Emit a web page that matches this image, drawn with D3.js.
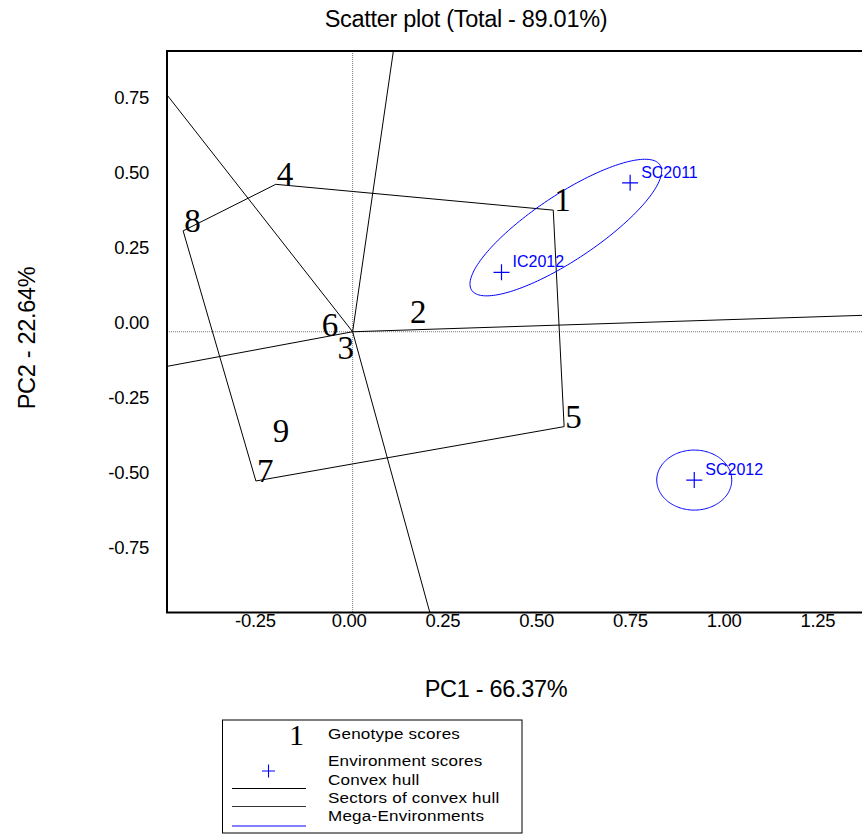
<!DOCTYPE html>
<html>
<head>
<meta charset="utf-8">
<script src="https://cdn.jsdelivr.net/npm/d3@7"></script>
<style>
  body { margin: 0; background: #fff; }
  svg { display: block; }
  .sans { font-family: "Liberation Sans", Arial, sans-serif; }
  .serif { font-family: "Liberation Serif", "Times New Roman", serif; }
</style>
</head>
<body>
<div id="chart"></div>
<script>
// genotype scores (PC1, PC2)
const genotypes = ['1', '2', '3', '4', '5', '6', '7', '8', '9'];
const genoPC1 = [0.535, 0.150, -0.043, -0.205, 0.564, -0.085, -0.258, -0.452, -0.216];
const genoPC2 = [0.405, 0.031, -0.087, 0.491, -0.316, -0.011, -0.497, 0.336, -0.363];

// environment scores
const environments = ['SC2011', 'IC2012', 'SC2012'];
const envPC1 = [0.740, 0.397, 0.911];
const envPC2 = [0.496, 0.198, -0.494];

// mega-environments (groups of environments)
const megaEnvs = [['SC2011', 'IC2012'], ['SC2012']];

const xTicks = [-0.25, 0, 0.25, 0.5, 0.75, 1.0, 1.25];
const yTicks = [-0.75, -0.5, -0.25, 0, 0.25, 0.5, 0.75];

const title = 'Scatter plot (Total - 89.01%)';
const xTitle = 'PC1 - 66.37%';
const yTitle = 'PC2 - 22.64%';

const W = 862, H = 836;
const plot = { left: 167, top: 51, right: 878, bottom: 612.5 };
const blue = '#0000ff';
const ellipsePad = 0.1;

const svg = d3.select('#chart')
  .append('svg')
  .attr('width', W)
  .attr('height', H);

const x = d3.scaleLinear().domain([-0.495, 1.401]).range([plot.left, plot.right]);
const y = d3.scaleLinear().domain([-0.935, 0.935]).range([plot.bottom, plot.top]);

svg.append('defs').append('clipPath')
  .attr('id', 'clip')
  .append('rect')
  .attr('x', plot.left)
  .attr('y', plot.top)
  .attr('width', plot.right - plot.left)
  .attr('height', plot.bottom - plot.top);

// title
svg.append('text')
  .attr('class', 'sans')
  .attr('x', 466)
  .attr('y', 27)
  .attr('text-anchor', 'middle')
  .attr('font-size', 23.5)
  .attr('letter-spacing', -0.3)
  .text(title);

// axes tick labels
const fmt = (d) => d.toFixed(2);

const xAxis = svg.append('g')
  .attr('transform', `translate(0,${plot.bottom})`)
  .call(d3.axisBottom(x).tickValues(xTicks).tickSize(0).tickFormat(fmt));
xAxis.select('.domain').remove();
xAxis.selectAll('text')
  .attr('class', 'sans')
  .attr('font-size', 18.5)
  .attr('letter-spacing', -0.3)
  .attr('fill', '#000')
  .attr('x', -4)
  .attr('y', 14.5)
  .attr('dy', null);

const yAxis = svg.append('g')
  .attr('transform', `translate(${plot.left},0)`)
  .call(d3.axisLeft(y).tickValues(yTicks).tickSize(0).tickFormat(fmt));
yAxis.select('.domain').remove();
yAxis.selectAll('text')
  .attr('class', 'sans')
  .attr('font-size', 18.5)
  .attr('letter-spacing', -0.3)
  .attr('fill', '#000')
  .attr('x', -18)
  .attr('y', -3.5)
  .attr('dy', null);

// axis titles
svg.append('text')
  .attr('class', 'sans')
  .attr('x', 496)
  .attr('y', 697)
  .attr('text-anchor', 'middle')
  .attr('font-size', 23.5)
  .attr('letter-spacing', -0.3)
  .text(xTitle);

svg.append('text')
  .attr('class', 'sans')
  .attr('transform', 'translate(35,338) rotate(-90)')
  .attr('text-anchor', 'middle')
  .attr('font-size', 23.5)
  .attr('letter-spacing', -0.3)
  .text(yTitle);

const g = svg.append('g').attr('clip-path', 'url(#clip)');

// dotted origin axes
g.append('line')
  .attr('x1', x(0)).attr('x2', x(0))
  .attr('y1', plot.top).attr('y2', plot.bottom)
  .attr('stroke', '#777')
  .attr('stroke-dasharray', '1,1');
g.append('line')
  .attr('x1', plot.left).attr('x2', plot.right)
  .attr('y1', y(0)).attr('y2', y(0))
  .attr('stroke', '#777')
  .attr('stroke-dasharray', '1,1');

// convex hull of genotypes
const genoPts = genotypes.map((d, i) => [genoPC1[i], genoPC2[i]]);
const hull = d3.polygonHull(genoPts);

g.append('path')
  .attr('d', d3.line().x((d) => x(d[0])).y((d) => y(d[1]))(hull.concat([hull[0]])))
  .attr('fill', 'none')
  .attr('stroke', '#000')
  .attr('stroke-width', 1);

// sector lines: perpendicular from origin to each hull edge
hull.forEach((a, i) => {
  const b = hull[(i + 1) % hull.length];
  const dx = b[0] - a[0], dy = b[1] - a[1];
  const t = -(a[0] * dx + a[1] * dy) / (dx * dx + dy * dy);
  const fx = a[0] + t * dx, fy = a[1] + t * dy;
  const len = Math.hypot(fx, fy);
  const ex = (fx / len) * 5, ey = (fy / len) * 5;
  g.append('line')
    .attr('x1', x(0)).attr('y1', y(0))
    .attr('x2', x(ex)).attr('y2', y(ey))
    .attr('stroke', '#000')
    .attr('stroke-width', 1);
});

// mega-environment ellipses
const envIndex = (name) => environments.indexOf(name);
megaEnvs.forEach((grp) => {
  const pts = grp.map((n) => [envPC1[envIndex(n)], envPC2[envIndex(n)]]);
  const cx = d3.mean(pts, (d) => d[0]);
  const cy = d3.mean(pts, (d) => d[1]);
  let ux = 1, uy = 0, half = 0;
  if (pts.length > 1) {
    const ddx = pts[1][0] - pts[0][0], ddy = pts[1][1] - pts[0][1];
    const dist = Math.hypot(ddx, ddy);
    ux = ddx / dist; uy = ddy / dist; half = dist / 2;
  }
  const ra = half + ellipsePad, rb = ellipsePad;
  const ring = d3.range(0, 2 * Math.PI, Math.PI / 90).map((th) => {
    const p = ra * Math.cos(th), q = rb * Math.sin(th);
    return [cx + p * ux - q * uy, cy + p * uy + q * ux];
  });
  g.append('path')
    .attr('d', d3.line().x((d) => x(d[0])).y((d) => y(d[1])).curve(d3.curveLinearClosed)(ring))
    .attr('fill', 'none')
    .attr('stroke', blue)
    .attr('stroke-width', 1);
});

// environment markers
environments.forEach((name, i) => {
  const px = x(envPC1[i]), py = y(envPC2[i]);
  g.append('path')
    .attr('d', `M${px - 8},${py}H${px + 8}M${px},${py - 8}V${py + 8}`)
    .attr('stroke', blue)
    .attr('stroke-width', 1.2);
  g.append('text')
    .attr('class', 'sans')
    .attr('x', px + 11)
    .attr('y', py - 5)
    .attr('font-size', 16)
    .attr('fill', blue)
    .text(name);
});

// genotype labels
g.selectAll('text.geno')
  .data(genotypes)
  .enter()
  .append('text')
  .attr('class', 'geno serif')
  .attr('x', (d, i) => x(genoPC1[i]) + 1)
  .attr('y', (d, i) => y(genoPC2[i]) + 1)
  .attr('font-size', 33)
  .attr('fill', '#000')
  .text((d) => d);

// frame
svg.append('rect')
  .attr('x', plot.left)
  .attr('y', plot.top)
  .attr('width', plot.right - plot.left)
  .attr('height', plot.bottom - plot.top)
  .attr('fill', 'none')
  .attr('stroke', '#000')
  .attr('stroke-width', 2);

// legend
const lg = svg.append('g');
lg.append('rect')
  .attr('x', 222.5).attr('y', 720)
  .attr('width', 299.5).attr('height', 113)
  .attr('fill', 'none')
  .attr('stroke', '#000')
  .attr('stroke-width', 1);

lg.append('text')
  .attr('class', 'serif')
  .attr('x', 296.5).attr('y', 745)
  .attr('text-anchor', 'middle')
  .attr('font-size', 30)
  .text(genotypes[0]);

lg.append('path')
  .attr('d', 'M262,771H275M268.5,764.5V777.5')
  .attr('stroke', blue)
  .attr('stroke-width', 1.1);

const legendLines = [
  { y: 788.5, color: '#000' },
  { y: 806.5, color: '#333' },
  { y: 826, color: blue }
];
legendLines.forEach((d) => {
  lg.append('line')
    .attr('x1', 232).attr('x2', 306)
    .attr('y1', d.y).attr('y2', d.y)
    .attr('stroke', d.color)
    .attr('stroke-width', 1);
});

const legendTexts = [
  ['Genotype scores', 739],
  ['Environment scores', 766],
  ['Convex hull', 784.5],
  ['Sectors of convex hull', 803],
  ['Mega-Environments', 821]
];
legendTexts.forEach(([t, ty]) => {
  lg.append('text')
    .attr('class', 'sans')
    .attr('transform', `translate(328,${ty}) scale(1.1,1)`)
    .attr('font-size', 15.5)
    .attr('letter-spacing', 0.2)
    .text(t);
});
</script>
</body>
</html>
